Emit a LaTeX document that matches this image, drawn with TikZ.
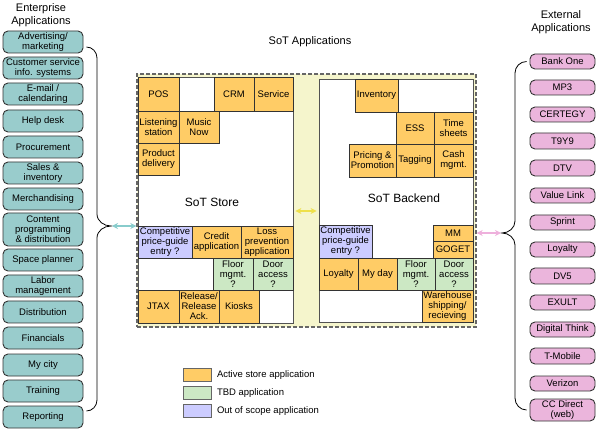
\documentclass[tikz,border=0pt]{standalone}
\usepackage{fontspec}
\setmainfont{Liberation Sans}
\usetikzlibrary{calc,arrows.meta}
\definecolor{tealbox}{HTML}{99CCCC}
\definecolor{pinkbox}{HTML}{EBB5DC}
\definecolor{orangebox}{HTML}{FFCC66}
\definecolor{greenbox}{HTML}{CCE8C4}
\definecolor{purplebox}{HTML}{CCCCFF}
\definecolor{stripbg}{HTML}{F5F5CC}
\definecolor{edgegray}{HTML}{333333}
\definecolor{dashgray}{HTML}{666666}
\definecolor{tealarrow}{HTML}{88CCCC}
\definecolor{pinkarrow}{HTML}{EEB0DC}
\definecolor{yellowarrow}{HTML}{EEE04A}
\newcommand\mkcell[7]{%
  \node[#6, minimum width={(#4-#2)*1pt}, minimum height={(#5-#3)*1pt}] (#1) at ({(#2+#4)/2},{(#3+#5)/2}) {#7};}
\tikzset{
  txt/.style={font=\fontsize{9.5}{10}\selectfont, align=center, inner sep=0pt, text=black},
  sidebox/.style={txt, draw=edgegray, line width=0.9pt, rounded corners=5pt},
  leftapp/.style={sidebox, fill=tealbox},
  rightapp/.style={sidebox, fill=pinkbox},
  cellbase/.style={txt, draw=edgegray, line width=0.8pt},
  act/.style={cellbase, fill=orangebox},
  tbd/.style={cellbase, fill=greenbox},
  oos/.style={cellbase, fill=purplebox},
  panel/.style={draw=dashgray!80!black, line width=0.8pt, fill=white},
  brace/.style={draw=black, line width=0.8pt},
  link/.style={{Stealth[length=6pt,width=6pt]}-{Stealth[length=6pt,width=6pt]}, line width=1.3pt},
  legbox/.style={draw=dashgray, line width=0.8pt, minimum width=28pt, minimum height=13pt, inner sep=0pt},
  legtxt/.style={font=\fontsize{9.5}{10}\selectfont, anchor=west, inner sep=0pt}
}
\begin{document}
\begin{tikzpicture}[x=1pt,y=-1pt]
\useasboundingbox (0,0) rectangle (597,430);
% titles
\node[font=\fontsize{11}{13}\selectfont, align=center] (etitle) at (41,15) {Enterprise\\Applications};
\node[font=\fontsize{11}{13}\selectfont, align=center] (xtitle) at (561,22) {External\\Applications};
\node[font=\fontsize{11}{13}\selectfont] (stitle) at (310,42) {SoT Applications};
% outer dashed area
\mkcell{outer}{137}{74}{476}{327}{draw=dashgray, line width=1.4pt, dash pattern=on 4pt off 2pt, fill=stripbg, inner sep=0pt}{}
\mkcell{store}{138}{77}{293}{323}{panel, inner sep=0pt}{}
\mkcell{backend}{319}{79}{473}{322}{panel, inner sep=0pt}{}
\node[font=\fontsize{12}{14}\selectfont] (storelbl) at (212,202) {SoT Store};
\node[font=\fontsize{12}{14}\selectfont] (backlbl) at (404,198) {SoT Backend};
% store cells
\mkcell{pos}{138}{77}{179}{111}{act}{POS}
\mkcell{crm}{214}{77}{254}{111}{act}{CRM}
\mkcell{service}{254}{77}{293}{111}{act}{Service}
\mkcell{listen}{138}{111}{179}{143}{act}{Listening\\station}
\mkcell{music}{179}{111}{219}{143}{act}{Music\\Now}
\mkcell{prod}{138}{143}{179}{175}{act}{Product\\delivery}
\mkcell{comp1}{138}{226}{192}{258}{oos}{Competitive\\price-guide\\entry ?}
\mkcell{credit}{192}{226}{241}{258}{act}{Credit\\application}
\mkcell{loss}{241}{226}{293}{258}{act}{Loss\\prevention\\application}
\mkcell{floor1}{213}{258}{253}{290}{tbd}{Floor\\mgmt.\\?}
\mkcell{door1}{253}{258}{293}{290}{tbd}{Door\\access\\?}
\mkcell{jtax}{138}{290}{179}{323}{act}{JTAX}
\mkcell{release}{179}{290}{219}{323}{act}{Release/\\Release\\Ack.}
\mkcell{kiosks}{219}{290}{259}{323}{act}{Kiosks}
% backend cells
\mkcell{inv}{355}{79}{398}{112}{act}{Inventory}
\mkcell{ess}{396}{112}{434}{144}{act}{ESS}
\mkcell{time}{434}{112}{473}{144}{act}{Time\\sheets}
\mkcell{pricing}{349}{144}{396}{177}{act}{Pricing \&\\Promotion}
\mkcell{tagging}{396}{144}{434}{177}{act}{Tagging}
\mkcell{cash}{434}{144}{473}{177}{act}{Cash\\mgmt.}
\mkcell{comp2}{319}{225}{372}{258}{oos}{Competitive\\price-guide\\entry ?}
\mkcell{mm}{433}{225}{473}{241}{act}{MM}
\mkcell{goget}{433}{241}{473}{258}{act}{GOGET}
\mkcell{loyalty2}{319}{258}{358}{290}{act}{Loyalty}
\mkcell{myday}{358}{258}{397}{290}{act}{My day}
\mkcell{floor2}{397}{258}{435}{290}{tbd}{Floor\\mgmt.\\?}
\mkcell{door2}{435}{258}{473}{290}{tbd}{Door\\access\\?}
\mkcell{ware}{422}{290}{473}{322}{act}{Warehouse\\shipping/\\recieving}
% left apps
\mkcell{l1}{3}{31}{83}{53}{leftapp}{Advertising/\\marketing}
\mkcell{l2}{3}{57}{83}{79}{leftapp}{Customer service\\info. systems}
\mkcell{l3}{3}{83}{83}{105}{leftapp}{E-mail /\\calendaring}
\mkcell{l4}{3}{110}{83}{132}{leftapp}{Help desk}
\mkcell{l5}{3}{136}{83}{158}{leftapp}{Procurement}
\mkcell{l6}{3}{162}{83}{184}{leftapp}{Sales \&\\inventory}
\mkcell{l7}{3}{188}{83}{210}{leftapp}{Merchandising}
\mkcell{l8}{3}{213}{83}{246}{leftapp}{Content\\programming\\\& distribution}
\mkcell{l9}{3}{249}{83}{271}{leftapp}{Space planner}
\mkcell{l10}{3}{275}{83}{297}{leftapp}{Labor\\management}
\mkcell{l11}{3}{301}{83}{323}{leftapp}{Distribution}
\mkcell{l12}{3}{327}{83}{349}{leftapp}{Financials}
\mkcell{l13}{3}{354}{83}{376}{leftapp}{My city}
\mkcell{l14}{3}{380}{83}{402}{leftapp}{Training}
\mkcell{l15}{3}{406}{83}{428}{leftapp}{Reporting}
% right apps
\mkcell{r1}{530}{54}{595}{69}{rightapp}{Bank One}
\mkcell{r2}{530}{80}{595}{95}{rightapp}{MP3}
\mkcell{r3}{530}{107}{595}{122}{rightapp}{CERTEGY}
\mkcell{r4}{530}{133}{595}{149}{rightapp}{T9Y9}
\mkcell{r5}{530}{160}{595}{176}{rightapp}{DTV}
\mkcell{r6}{530}{188}{595}{203}{rightapp}{Value Link}
\mkcell{r7}{530}{215}{595}{230}{rightapp}{Sprint}
\mkcell{r8}{530}{242}{595}{257}{rightapp}{Loyalty}
\mkcell{r9}{530}{268}{595}{284}{rightapp}{DV5}
\mkcell{r10}{530}{295}{595}{310}{rightapp}{EXULT}
\mkcell{r11}{530}{322}{595}{337}{rightapp}{Digital Think}
\mkcell{r12}{530}{348}{595}{364}{rightapp}{T-Mobile}
\mkcell{r13}{530}{376}{595}{391}{rightapp}{Verizon}
\mkcell{r14}{530}{399}{595}{421}{rightapp}{CC Direct\\(web)}
% braces
\coordinate (ltip) at (111,226);
\coordinate (rtip) at (502,233);
\draw[brace] ($(l1.east)+(3,5)$) to[out=0,in=90] (97,58) -- (97,214) to[out=-90,in=180] (ltip)
  to[out=180,in=90] (97,238) -- (97,400) to[out=-90,in=0] ($(l15.east)+(3,-6)$);
\draw[brace] ($(r1.west)+(-3,0)$) to[out=180,in=90] (515,73) -- (515,221) to[out=-90,in=0] (rtip)
  to[out=0,in=90] (515,245) -- (515,398) to[out=-90,in=180] ($(r14.west)+(-3,0)$);
% link arrows
\draw[link, draw=tealarrow, fill=tealarrow, shorten <=1pt] (ltip) -- (outer.west |- ltip);
\draw[link, draw=pinkarrow, fill=pinkarrow, shorten >=1pt] (outer.east |- rtip) -- (rtip);
\draw[link, draw=yellowarrow, fill=yellowarrow, shorten <=2pt, shorten >=2pt] (store.east |- 0,211) -- (backend.west |- 0,211);
% legend
\node[legbox, fill=orangebox, anchor=north west] (lg1) at (183,368) {};
\node[legbox, fill=greenbox, anchor=north west] (lg2) at (183,386) {};
\node[legbox, fill=purplebox, anchor=north west] (lg3) at (183,404) {};
\node[legtxt] (lt1) at ($(lg1.east)+(5,0)$) {Active store application};
\node[legtxt] (lt2) at ($(lg2.east)+(5,0)$) {TBD application};
\node[legtxt] (lt3) at ($(lg3.east)+(5,0)$) {Out of scope application};
\end{tikzpicture}
\end{document}
